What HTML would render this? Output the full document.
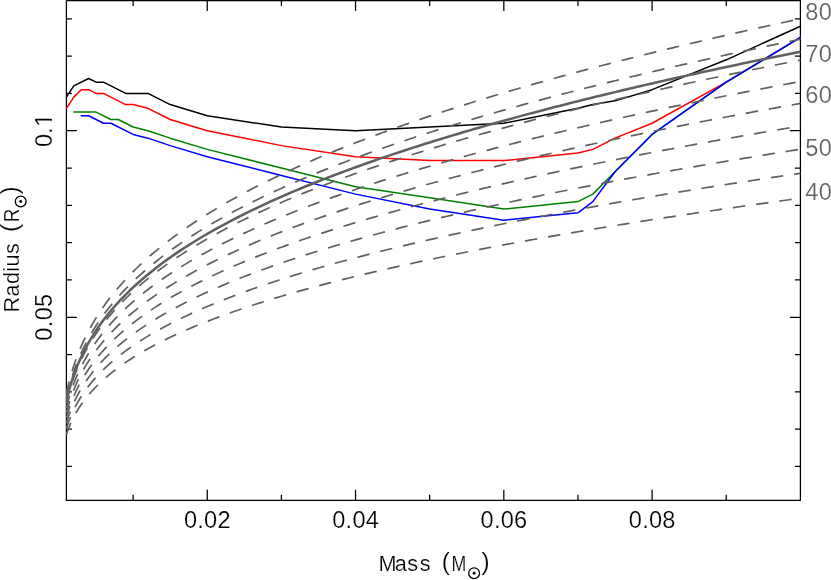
<!DOCTYPE html><html><head><meta charset="utf-8"><style>html,body{margin:0;padding:0;background:#fff}svg{display:block}text{font-family:"Liberation Sans",sans-serif}</style></head><body>
<svg width="831" height="580" viewBox="0 0 831 580">
<rect width="831" height="580" fill="#fff"/>
<defs><clipPath id="c"><rect x="65.80" y="-0.10" width="735.20" height="501.00"/></clipPath></defs>
<g stroke="#000" stroke-width="1.25" fill="none">
<path d="M66.40 0.50 V500.30 H800.40 V0.50 H66.40"/>
<path d="M133.13 500.30v-5.50M133.13 0.50v5.50M207.27 500.30v-10.50M207.27 0.50v10.50M281.41 500.30v-5.50M281.41 0.50v5.50M355.55 500.30v-10.50M355.55 0.50v10.50M429.69 500.30v-5.50M429.69 0.50v5.50M503.83 500.30v-10.50M503.83 0.50v10.50M577.97 500.30v-5.50M577.97 0.50v5.50M652.11 500.30v-10.50M652.11 0.50v10.50M726.25 500.30v-5.50M726.25 0.50v5.50M66.40 466.49h5.50M800.40 466.49h-5.50M66.40 429.18h5.50M800.40 429.18h-5.50M66.40 391.87h5.50M800.40 391.87h-5.50M66.40 354.56h5.50M800.40 354.56h-5.50M66.40 317.25h10.50M800.40 317.25h-10.50M66.40 279.94h5.50M800.40 279.94h-5.50M66.40 242.63h5.50M800.40 242.63h-5.50M66.40 205.32h5.50M800.40 205.32h-5.50M66.40 168.01h5.50M800.40 168.01h-5.50M66.40 130.70h10.50M800.40 130.70h-10.50M66.40 93.39h5.50M800.40 93.39h-5.50M66.40 56.08h5.50M800.40 56.08h-5.50M66.40 18.77h5.50M800.40 18.77h-5.50"/>
</g>
<g fill="none" stroke-linejoin="round" clip-path="url(#c)">
<polyline points="66.40,97.12 73.81,85.93 88.64,78.47 96.06,82.20 103.47,82.20 125.71,93.39 133.13,93.39 147.95,93.39 170.20,104.58 207.27,115.78 281.41,126.97 355.55,130.70 429.69,126.97 503.83,123.24 577.97,108.31 592.79,104.58 615.04,100.85 652.11,89.66 726.25,59.81 800.39,26.23" stroke="#000" stroke-width="1.5" stroke-linecap="round"/>
<polyline points="66.40,108.31 73.81,97.12 81.23,89.66 88.64,89.66 96.06,93.39 103.47,93.39 125.71,104.58 133.13,104.58 147.95,108.31 170.20,119.51 207.27,130.70 281.41,145.62 355.55,156.82 429.69,160.55 503.83,160.55 577.97,153.09 592.79,149.36 615.04,138.16 652.11,123.24 726.25,82.20 800.39,37.43" stroke="#ff0000" stroke-width="1.5" stroke-linecap="round"/>
<polyline points="73.81,112.05 96.06,112.05 110.88,119.51 118.30,119.51 133.13,126.97 147.95,130.70 170.20,138.16 207.27,149.36 281.41,168.01 355.55,186.66 429.69,197.86 503.83,209.05 577.97,201.59 592.79,194.13 615.04,171.74 652.11,134.43 726.25,82.20 800.39,37.43" stroke="#008000" stroke-width="1.5" stroke-linecap="round"/>
<polyline points="81.23,115.78 88.64,115.78 103.47,123.24 110.88,123.24 133.13,134.43 147.95,138.16 170.20,145.62 207.27,156.82 281.41,175.47 355.55,194.13 429.69,209.05 503.83,220.24 577.97,212.78 592.79,201.59 615.04,171.74 652.11,134.43 726.25,82.20 800.39,37.43" stroke="#0000ff" stroke-width="1.5" stroke-linecap="round"/>
<polyline points="66.40,393.66 67.14,390.17 67.88,386.89 68.62,383.79 69.37,380.85 70.11,378.05 70.85,375.38 71.59,372.81 72.33,370.35 73.07,367.98 73.81,365.69 74.56,363.48 75.30,361.34 76.04,359.27 76.78,357.26 77.52,355.30 78.26,353.40 79.00,351.55 79.75,349.74 80.49,347.98 81.23,346.25 81.97,344.57 82.71,342.93 83.45,341.31 84.19,339.74 84.94,338.19 85.68,336.67 86.42,335.19 87.16,333.72 87.90,332.29 88.64,330.88 89.38,329.50 90.12,328.13 90.87,326.79 91.61,325.48 92.35,324.18 93.09,322.90 93.83,321.64 94.57,320.40 95.31,319.17 96.06,317.97 96.80,316.78 97.54,315.60 98.28,314.45 99.02,313.30 99.76,312.17 100.50,311.06 101.25,309.96 101.99,308.87 102.73,307.79 103.47,306.73 104.21,305.68 104.95,304.64 105.69,303.61 106.44,302.60 107.18,301.59 107.92,300.60 108.66,299.61 109.40,298.64 110.14,297.68 110.88,296.72 111.63,295.78 112.37,294.84 113.11,293.91 113.85,292.99 114.59,292.08 115.33,291.18 116.07,290.29 116.82,289.40 117.56,288.53 118.30,287.66 119.04,286.79 119.78,285.94 120.52,285.09 121.26,284.25 122.01,283.41 122.75,282.59 123.49,281.77 124.23,280.95 124.97,280.14 125.71,279.34 126.45,278.55 127.19,277.76 127.94,276.97 128.68,276.19 129.42,275.42 130.16,274.66 130.90,273.89 131.64,273.14 132.38,272.39 133.13,271.64 136.83,267.99 140.54,264.46 144.25,261.04 147.95,257.71 151.66,254.49 155.37,251.35 159.08,248.29 162.78,245.31 166.49,242.40 170.20,239.56 173.90,236.79 177.61,234.07 181.32,231.41 185.02,228.81 188.73,226.26 192.44,223.76 196.15,221.31 199.85,218.90 203.56,216.54 207.27,214.22 210.97,211.93 214.68,209.69 218.39,207.48 222.09,205.30 225.80,203.16 229.51,201.06 233.22,198.98 236.92,196.93 240.63,194.91 244.34,192.92 248.04,190.96 251.75,189.02 255.46,187.11 259.16,185.22 262.87,183.36 266.58,181.52 270.29,179.70 273.99,177.90 277.70,176.13 281.41,174.37 285.11,172.63 288.82,170.92 292.53,169.22 296.23,167.54 299.94,165.88 303.65,164.23 307.36,162.60 311.06,160.99 314.77,159.40 318.48,157.81 322.18,156.25 325.89,154.70 329.60,153.16 333.30,151.64 337.01,150.13 340.72,148.64 344.42,147.15 348.13,145.69 351.84,144.23 355.55,142.79 359.25,141.35 362.96,139.93 366.67,138.52 370.37,137.13 374.08,135.74 377.79,134.37 381.50,133.00 385.20,131.65 388.91,130.30 392.62,128.97 396.32,127.64 400.03,126.33 403.74,125.02 407.44,123.73 411.15,122.44 414.86,121.16 418.57,119.89 422.27,118.63 425.98,117.38 429.69,116.14 433.39,114.90 437.10,113.67 440.81,112.45 444.51,111.24 448.22,110.04 451.93,108.84 455.63,107.65 459.34,106.47 463.05,105.29 466.76,104.13 470.46,102.97 474.17,101.81 477.88,100.66 481.58,99.52 485.29,98.39 489.00,97.26 492.71,96.14 496.41,95.02 500.12,93.91 503.83,92.81 507.53,91.71 511.24,90.62 514.95,89.54 518.65,88.46 522.36,87.38 526.07,86.32 529.77,85.25 533.48,84.19 537.19,83.14 540.90,82.10 544.60,81.05 548.31,80.02 552.02,78.99 555.72,77.96 559.43,76.94 563.14,75.92 566.85,74.91 570.55,73.90 574.26,72.90 577.97,71.90 581.67,70.91 585.38,69.92 589.09,68.93 592.79,67.95 596.50,66.98 600.21,66.00 603.91,65.04 607.62,64.07 611.33,63.12 615.04,62.16 618.74,61.21 622.45,60.26 626.16,59.32 629.86,58.38 633.57,57.45 637.28,56.51 640.99,55.59 644.69,54.66 648.40,53.74 652.11,52.83 655.81,51.91 659.52,51.00 663.23,50.10 666.93,49.20 670.64,48.30 674.35,47.40 678.05,46.51 681.76,45.62 685.47,44.74 689.18,43.85 692.88,42.97 696.59,42.10 700.30,41.23 704.00,40.36 707.71,39.49 711.42,38.63 715.12,37.77 718.83,36.91 722.54,36.06 726.25,35.21 729.95,34.36 733.66,33.51 737.37,32.67 741.07,31.83 744.78,31.00 748.49,30.16 752.19,29.33 755.90,28.50 759.61,27.68 763.32,26.85 767.02,26.03 770.73,25.22 774.44,24.40 778.14,23.59 781.85,22.78 785.56,21.97 789.26,21.17 792.97,20.37 796.68,19.57 800.39,18.77" stroke="#606060" stroke-width="1.7" stroke-dasharray="12.4 11.0"/>
<polyline points="66.40,398.29 67.14,394.95 67.88,391.81 68.62,388.84 69.37,386.03 70.11,383.35 70.85,380.78 71.59,378.33 72.33,375.97 73.07,373.70 73.81,371.51 74.56,369.39 75.30,367.34 76.04,365.36 76.78,363.43 77.52,361.56 78.26,359.73 79.00,357.96 79.75,356.23 80.49,354.54 81.23,352.89 81.97,351.28 82.71,349.70 83.45,348.16 84.19,346.65 84.94,345.16 85.68,343.71 86.42,342.29 87.16,340.89 87.90,339.51 88.64,338.16 89.38,336.84 90.12,335.53 90.87,334.25 91.61,332.99 92.35,331.74 93.09,330.52 93.83,329.31 94.57,328.12 95.31,326.95 96.06,325.79 96.80,324.65 97.54,323.53 98.28,322.42 99.02,321.33 99.76,320.24 100.50,319.18 101.25,318.12 101.99,317.08 102.73,316.05 103.47,315.03 104.21,314.02 104.95,313.03 105.69,312.05 106.44,311.07 107.18,310.11 107.92,309.16 108.66,308.21 109.40,307.28 110.14,306.36 110.88,305.44 111.63,304.54 112.37,303.64 113.11,302.75 113.85,301.87 114.59,301.00 115.33,300.14 116.07,299.28 116.82,298.43 117.56,297.59 118.30,296.76 119.04,295.93 119.78,295.11 120.52,294.30 121.26,293.49 122.01,292.70 122.75,291.90 123.49,291.12 124.23,290.34 124.97,289.56 125.71,288.79 126.45,288.03 127.19,287.28 127.94,286.53 128.68,285.78 129.42,285.04 130.16,284.31 130.90,283.58 131.64,282.85 132.38,282.13 133.13,281.42 136.83,277.92 140.54,274.54 144.25,271.26 147.95,268.08 151.66,264.99 155.37,261.98 159.08,259.05 162.78,256.19 166.49,253.41 170.20,250.69 173.90,248.03 177.61,245.43 181.32,242.89 185.02,240.39 188.73,237.95 192.44,235.56 196.15,233.21 199.85,230.90 203.56,228.64 207.27,226.41 210.97,224.22 214.68,222.07 218.39,219.96 222.09,217.88 225.80,215.82 229.51,213.81 233.22,211.82 236.92,209.85 240.63,207.92 244.34,206.02 248.04,204.13 251.75,202.28 255.46,200.45 259.16,198.64 262.87,196.85 266.58,195.09 270.29,193.35 273.99,191.63 277.70,189.93 281.41,188.24 285.11,186.58 288.82,184.94 292.53,183.31 296.23,181.70 299.94,180.11 303.65,178.53 307.36,176.97 311.06,175.43 314.77,173.90 318.48,172.39 322.18,170.89 325.89,169.40 329.60,167.93 333.30,166.47 337.01,165.03 340.72,163.59 344.42,162.17 348.13,160.77 351.84,159.37 355.55,157.99 359.25,156.62 362.96,155.26 366.67,153.91 370.37,152.57 374.08,151.24 377.79,149.92 381.50,148.62 385.20,147.32 388.91,146.03 392.62,144.75 396.32,143.48 400.03,142.22 403.74,140.97 407.44,139.73 411.15,138.50 414.86,137.28 418.57,136.06 422.27,134.85 425.98,133.65 429.69,132.46 433.39,131.28 437.10,130.10 440.81,128.93 444.51,127.77 448.22,126.62 451.93,125.47 455.63,124.33 459.34,123.20 463.05,122.08 466.76,120.96 470.46,119.85 474.17,118.74 477.88,117.64 481.58,116.55 485.29,115.46 489.00,114.38 492.71,113.31 496.41,112.24 500.12,111.18 503.83,110.12 507.53,109.07 511.24,108.02 514.95,106.98 518.65,105.95 522.36,104.92 526.07,103.90 529.77,102.88 533.48,101.87 537.19,100.86 540.90,99.85 544.60,98.86 548.31,97.86 552.02,96.88 555.72,95.89 559.43,94.91 563.14,93.94 566.85,92.97 570.55,92.00 574.26,91.04 577.97,90.09 581.67,89.14 585.38,88.19 589.09,87.25 592.79,86.31 596.50,85.37 600.21,84.44 603.91,83.51 607.62,82.59 611.33,81.67 615.04,80.76 618.74,79.85 622.45,78.94 626.16,78.04 629.86,77.14 633.57,76.24 637.28,75.35 640.99,74.46 644.69,73.58 648.40,72.70 652.11,71.82 655.81,70.94 659.52,70.07 663.23,69.20 666.93,68.34 670.64,67.48 674.35,66.62 678.05,65.77 681.76,64.92 685.47,64.07 689.18,63.22 692.88,62.38 696.59,61.54 700.30,60.71 704.00,59.87 707.71,59.05 711.42,58.22 715.12,57.39 718.83,56.57 722.54,55.76 726.25,54.94 729.95,54.13 733.66,53.32 737.37,52.51 741.07,51.71 744.78,50.91 748.49,50.11 752.19,49.31 755.90,48.52 759.61,47.73 763.32,46.94 767.02,46.15 770.73,45.37 774.44,44.59 778.14,43.81 781.85,43.04 785.56,42.26 789.26,41.49 792.97,40.73 796.68,39.96 800.39,39.20" stroke="#606060" stroke-width="1.7" stroke-dasharray="12.4 11.0"/>
<polyline points="66.40,403.04 67.14,399.85 67.88,396.85 68.62,394.01 69.37,391.32 70.11,388.76 70.85,386.31 71.59,383.97 72.33,381.72 73.07,379.55 73.81,377.46 74.56,375.43 75.30,373.48 76.04,371.58 76.78,369.74 77.52,367.95 78.26,366.21 79.00,364.51 79.75,362.86 80.49,361.25 81.23,359.67 81.97,358.13 82.71,356.63 83.45,355.15 84.19,353.71 84.94,352.29 85.68,350.91 86.42,349.55 87.16,348.21 87.90,346.90 88.64,345.61 89.38,344.34 90.12,343.10 90.87,341.87 91.61,340.66 92.35,339.48 93.09,338.31 93.83,337.15 94.57,336.02 95.31,334.90 96.06,333.80 96.80,332.71 97.54,331.63 98.28,330.57 99.02,329.53 99.76,328.50 100.50,327.48 101.25,326.47 101.99,325.47 102.73,324.49 103.47,323.52 104.21,322.56 104.95,321.61 105.69,320.67 106.44,319.74 107.18,318.82 107.92,317.91 108.66,317.01 109.40,316.11 110.14,315.23 110.88,314.36 111.63,313.49 112.37,312.64 113.11,311.79 113.85,310.95 114.59,310.12 115.33,309.29 116.07,308.47 116.82,307.66 117.56,306.86 118.30,306.07 119.04,305.28 119.78,304.49 120.52,303.72 121.26,302.95 122.01,302.19 122.75,301.43 123.49,300.68 124.23,299.93 124.97,299.19 125.71,298.46 126.45,297.73 127.19,297.01 127.94,296.29 128.68,295.58 129.42,294.87 130.16,294.17 130.90,293.48 131.64,292.79 132.38,292.10 133.13,291.42 136.83,288.08 140.54,284.85 144.25,281.71 147.95,278.67 151.66,275.72 155.37,272.85 159.08,270.05 162.78,267.32 166.49,264.66 170.20,262.07 173.90,259.53 177.61,257.04 181.32,254.61 185.02,252.23 188.73,249.90 192.44,247.62 196.15,245.37 199.85,243.17 203.56,241.01 207.27,238.88 210.97,236.79 214.68,234.74 218.39,232.72 222.09,230.73 225.80,228.77 229.51,226.84 233.22,224.94 236.92,223.07 240.63,221.22 244.34,219.40 248.04,217.61 251.75,215.83 255.46,214.08 259.16,212.36 262.87,210.65 266.58,208.97 270.29,207.30 273.99,205.66 277.70,204.04 281.41,202.43 285.11,200.84 288.82,199.27 292.53,197.72 296.23,196.18 299.94,194.66 303.65,193.15 307.36,191.66 311.06,190.19 314.77,188.73 318.48,187.28 322.18,185.85 325.89,184.43 329.60,183.03 333.30,181.63 337.01,180.25 340.72,178.89 344.42,177.53 348.13,176.19 351.84,174.86 355.55,173.53 359.25,172.22 362.96,170.93 366.67,169.64 370.37,168.36 374.08,167.09 377.79,165.83 381.50,164.58 385.20,163.34 388.91,162.11 392.62,160.89 396.32,159.68 400.03,158.48 403.74,157.28 407.44,156.10 411.15,154.92 414.86,153.75 418.57,152.59 422.27,151.44 425.98,150.29 429.69,149.15 433.39,148.02 437.10,146.90 440.81,145.79 444.51,144.68 448.22,143.58 451.93,142.48 455.63,141.39 459.34,140.31 463.05,139.24 466.76,138.17 470.46,137.11 474.17,136.05 477.88,135.00 481.58,133.96 485.29,132.92 489.00,131.89 492.71,130.86 496.41,129.84 500.12,128.83 503.83,127.82 507.53,126.81 511.24,125.82 514.95,124.82 518.65,123.83 522.36,122.85 526.07,121.87 529.77,120.90 533.48,119.93 537.19,118.97 540.90,118.01 544.60,117.06 548.31,116.11 552.02,115.17 555.72,114.23 559.43,113.29 563.14,112.36 566.85,111.44 570.55,110.52 574.26,109.60 577.97,108.69 581.67,107.78 585.38,106.87 589.09,105.97 592.79,105.07 596.50,104.18 600.21,103.29 603.91,102.41 607.62,101.53 611.33,100.65 615.04,99.78 618.74,98.91 622.45,98.04 626.16,97.18 629.86,96.32 633.57,95.46 637.28,94.61 640.99,93.76 644.69,92.92 648.40,92.08 652.11,91.24 655.81,90.40 659.52,89.57 663.23,88.74 666.93,87.92 670.64,87.09 674.35,86.27 678.05,85.46 681.76,84.65 685.47,83.84 689.18,83.03 692.88,82.22 696.59,81.42 700.30,80.63 704.00,79.83 707.71,79.04 711.42,78.25 715.12,77.46 718.83,76.68 722.54,75.90 726.25,75.12 729.95,74.34 733.66,73.57 737.37,72.80 741.07,72.03 744.78,71.27 748.49,70.50 752.19,69.74 755.90,68.99 759.61,68.23 763.32,67.48 767.02,66.73 770.73,65.98 774.44,65.23 778.14,64.49 781.85,63.75 785.56,63.01 789.26,62.28 792.97,61.54 796.68,60.81 800.39,60.08" stroke="#606060" stroke-width="1.7" stroke-dasharray="12.4 11.0"/>
<polyline points="66.40,407.89 67.14,404.86 67.88,402.00 68.62,399.30 69.37,396.74 70.11,394.31 70.85,391.98 71.59,389.75 72.33,387.60 73.07,385.54 73.81,383.55 74.56,381.62 75.30,379.76 76.04,377.95 76.78,376.20 77.52,374.50 78.26,372.84 79.00,371.23 79.75,369.66 80.49,368.12 81.23,366.62 81.97,365.16 82.71,363.72 83.45,362.32 84.19,360.94 84.94,359.60 85.68,358.28 86.42,356.98 87.16,355.71 87.90,354.46 88.64,353.24 89.38,352.03 90.12,350.84 90.87,349.68 91.61,348.53 92.35,347.40 93.09,346.28 93.83,345.19 94.57,344.11 95.31,343.04 96.06,341.99 96.80,340.96 97.54,339.93 98.28,338.92 99.02,337.93 99.76,336.95 100.50,335.97 101.25,335.02 101.99,334.07 102.73,333.13 103.47,332.21 104.21,331.29 104.95,330.39 105.69,329.49 106.44,328.61 107.18,327.73 107.92,326.87 108.66,326.01 109.40,325.16 110.14,324.32 110.88,323.49 111.63,322.67 112.37,321.85 113.11,321.05 113.85,320.25 114.59,319.45 115.33,318.67 116.07,317.89 116.82,317.12 117.56,316.35 118.30,315.60 119.04,314.85 119.78,314.10 120.52,313.36 121.26,312.63 122.01,311.90 122.75,311.18 123.49,310.47 124.23,309.76 124.97,309.06 125.71,308.36 126.45,307.67 127.19,306.98 127.94,306.30 128.68,305.62 129.42,304.95 130.16,304.28 130.90,303.62 131.64,302.96 132.38,302.30 133.13,301.66 136.83,298.48 140.54,295.40 144.25,292.42 147.95,289.53 151.66,286.72 155.37,283.98 159.08,281.32 162.78,278.72 166.49,276.19 170.20,273.72 173.90,271.30 177.61,268.94 181.32,266.63 185.02,264.36 188.73,262.14 192.44,259.96 196.15,257.83 199.85,255.73 203.56,253.67 207.27,251.65 210.97,249.66 214.68,247.71 218.39,245.78 222.09,243.89 225.80,242.03 229.51,240.19 233.22,238.38 236.92,236.60 240.63,234.84 244.34,233.11 248.04,231.40 251.75,229.71 255.46,228.05 259.16,226.41 262.87,224.78 266.58,223.18 270.29,221.60 273.99,220.03 277.70,218.49 281.41,216.96 285.11,215.45 288.82,213.95 292.53,212.47 296.23,211.01 299.94,209.56 303.65,208.13 307.36,206.71 311.06,205.31 314.77,203.92 318.48,202.54 322.18,201.18 325.89,199.83 329.60,198.49 333.30,197.16 337.01,195.85 340.72,194.55 344.42,193.26 348.13,191.98 351.84,190.71 355.55,189.45 359.25,188.21 362.96,186.97 366.67,185.74 370.37,184.53 374.08,183.32 377.79,182.12 381.50,180.93 385.20,179.76 388.91,178.58 392.62,177.42 396.32,176.27 400.03,175.12 403.74,173.99 407.44,172.86 411.15,171.74 414.86,170.63 418.57,169.52 422.27,168.42 425.98,167.33 429.69,166.25 433.39,165.17 437.10,164.11 440.81,163.04 444.51,161.99 448.22,160.94 451.93,159.90 455.63,158.86 459.34,157.83 463.05,156.81 466.76,155.79 470.46,154.78 474.17,153.78 477.88,152.78 481.58,151.78 485.29,150.80 489.00,149.82 492.71,148.84 496.41,147.87 500.12,146.90 503.83,145.94 507.53,144.99 511.24,144.04 514.95,143.09 518.65,142.15 522.36,141.22 526.07,140.28 529.77,139.36 533.48,138.44 537.19,137.52 540.90,136.61 544.60,135.70 548.31,134.80 552.02,133.90 555.72,133.01 559.43,132.12 563.14,131.23 566.85,130.35 570.55,129.47 574.26,128.60 577.97,127.73 581.67,126.87 585.38,126.01 589.09,125.15 592.79,124.30 596.50,123.45 600.21,122.60 603.91,121.76 607.62,120.92 611.33,120.08 615.04,119.25 618.74,118.42 622.45,117.60 626.16,116.78 629.86,115.96 633.57,115.15 637.28,114.34 640.99,113.53 644.69,112.72 648.40,111.92 652.11,111.12 655.81,110.33 659.52,109.54 663.23,108.75 666.93,107.96 670.64,107.18 674.35,106.40 678.05,105.62 681.76,104.85 685.47,104.08 689.18,103.31 692.88,102.55 696.59,101.78 700.30,101.02 704.00,100.27 707.71,99.51 711.42,98.76 715.12,98.01 718.83,97.27 722.54,96.52 726.25,95.78 729.95,95.04 733.66,94.31 737.37,93.58 741.07,92.84 744.78,92.12 748.49,91.39 752.19,90.67 755.90,89.95 759.61,89.23 763.32,88.51 767.02,87.80 770.73,87.08 774.44,86.38 778.14,85.67 781.85,84.96 785.56,84.26 789.26,83.56 792.97,82.86 796.68,82.17 800.39,81.47" stroke="#606060" stroke-width="1.7" stroke-dasharray="12.4 11.0"/>
<polyline points="66.40,412.88 67.14,410.00 67.88,407.29 68.62,404.73 69.37,402.31 70.11,400.00 70.85,397.79 71.59,395.67 72.33,393.64 73.07,391.68 73.81,389.80 74.56,387.97 75.30,386.21 76.04,384.49 76.78,382.83 77.52,381.22 78.26,379.65 79.00,378.12 79.75,376.63 80.49,375.17 81.23,373.75 81.97,372.36 82.71,371.00 83.45,369.67 84.19,368.37 84.94,367.09 85.68,365.84 86.42,364.61 87.16,363.41 87.90,362.22 88.64,361.06 89.38,359.92 90.12,358.79 90.87,357.69 91.61,356.60 92.35,355.52 93.09,354.47 93.83,353.43 94.57,352.41 95.31,351.40 96.06,350.40 96.80,349.42 97.54,348.45 98.28,347.49 99.02,346.55 99.76,345.62 100.50,344.70 101.25,343.79 101.99,342.89 102.73,342.00 103.47,341.12 104.21,340.26 104.95,339.40 105.69,338.55 106.44,337.71 107.18,336.88 107.92,336.06 108.66,335.25 109.40,334.44 110.14,333.65 110.88,332.86 111.63,332.08 112.37,331.31 113.11,330.54 113.85,329.78 114.59,329.03 115.33,328.29 116.07,327.55 116.82,326.82 117.56,326.10 118.30,325.38 119.04,324.66 119.78,323.96 120.52,323.26 121.26,322.56 122.01,321.88 122.75,321.19 123.49,320.51 124.23,319.84 124.97,319.18 125.71,318.51 126.45,317.86 127.19,317.21 127.94,316.56 128.68,315.92 129.42,315.28 130.16,314.65 130.90,314.02 131.64,313.39 132.38,312.77 133.13,312.16 136.83,309.15 140.54,306.23 144.25,303.40 147.95,300.66 151.66,298.00 155.37,295.40 159.08,292.88 162.78,290.42 166.49,288.02 170.20,285.67 173.90,283.38 177.61,281.14 181.32,278.95 185.02,276.80 188.73,274.70 192.44,272.64 196.15,270.61 199.85,268.62 203.56,266.67 207.27,264.75 210.97,262.87 214.68,261.02 218.39,259.19 222.09,257.40 225.80,255.63 229.51,253.89 233.22,252.18 236.92,250.49 240.63,248.82 244.34,247.18 248.04,245.56 251.75,243.96 255.46,242.38 259.16,240.82 262.87,239.28 266.58,237.76 270.29,236.26 273.99,234.78 277.70,233.31 281.41,231.86 285.11,230.43 288.82,229.01 292.53,227.61 296.23,226.22 299.94,224.85 303.65,223.49 307.36,222.15 311.06,220.82 314.77,219.50 318.48,218.20 322.18,216.90 325.89,215.62 329.60,214.35 333.30,213.10 337.01,211.85 340.72,210.62 344.42,209.40 348.13,208.18 351.84,206.98 355.55,205.79 359.25,204.61 362.96,203.43 366.67,202.27 370.37,201.12 374.08,199.97 377.79,198.84 381.50,197.71 385.20,196.59 388.91,195.48 392.62,194.38 396.32,193.29 400.03,192.20 403.74,191.13 407.44,190.06 411.15,188.99 414.86,187.94 418.57,186.89 422.27,185.85 425.98,184.82 429.69,183.79 433.39,182.77 437.10,181.76 440.81,180.75 444.51,179.75 448.22,178.76 451.93,177.77 455.63,176.79 459.34,175.81 463.05,174.84 466.76,173.88 470.46,172.92 474.17,171.97 477.88,171.02 481.58,170.08 485.29,169.14 489.00,168.21 492.71,167.28 496.41,166.36 500.12,165.45 503.83,164.54 507.53,163.63 511.24,162.73 514.95,161.83 518.65,160.94 522.36,160.06 526.07,159.17 529.77,158.30 533.48,157.42 537.19,156.55 540.90,155.69 544.60,154.83 548.31,153.97 552.02,153.12 555.72,152.28 559.43,151.43 563.14,150.59 566.85,149.76 570.55,148.93 574.26,148.10 577.97,147.27 581.67,146.45 585.38,145.64 589.09,144.82 592.79,144.02 596.50,143.21 600.21,142.41 603.91,141.61 607.62,140.81 611.33,140.02 615.04,139.23 618.74,138.45 622.45,137.67 626.16,136.89 629.86,136.11 633.57,135.34 637.28,134.57 640.99,133.81 644.69,133.05 648.40,132.29 652.11,131.53 655.81,130.78 659.52,130.02 663.23,129.28 666.93,128.53 670.64,127.79 674.35,127.05 678.05,126.32 681.76,125.58 685.47,124.85 689.18,124.12 692.88,123.40 696.59,122.67 700.30,121.95 704.00,121.24 707.71,120.52 711.42,119.81 715.12,119.10 718.83,118.39 722.54,117.69 726.25,116.98 729.95,116.28 733.66,115.59 737.37,114.89 741.07,114.20 744.78,113.51 748.49,112.82 752.19,112.13 755.90,111.45 759.61,110.77 763.32,110.09 767.02,109.41 770.73,108.74 774.44,108.07 778.14,107.40 781.85,106.73 785.56,106.06 789.26,105.40 792.97,104.73 796.68,104.07 800.39,103.42" stroke="#606060" stroke-width="1.7" stroke-dasharray="12.4 11.0"/>
<polyline points="66.40,418.00 67.14,415.28 67.88,412.73 68.62,410.32 69.37,408.03 70.11,405.85 70.85,403.76 71.59,401.77 72.33,399.85 73.07,398.00 73.81,396.22 74.56,394.50 75.30,392.83 76.04,391.22 76.78,389.65 77.52,388.13 78.26,386.64 79.00,385.20 79.75,383.79 80.49,382.42 81.23,381.08 81.97,379.77 82.71,378.48 83.45,377.23 84.19,376.00 84.94,374.80 85.68,373.61 86.42,372.46 87.16,371.32 87.90,370.20 88.64,369.10 89.38,368.02 90.12,366.96 90.87,365.92 91.61,364.89 92.35,363.88 93.09,362.89 93.83,361.90 94.57,360.94 95.31,359.98 96.06,359.04 96.80,358.12 97.54,357.20 98.28,356.30 99.02,355.41 99.76,354.53 100.50,353.66 101.25,352.80 101.99,351.96 102.73,351.12 103.47,350.29 104.21,349.47 104.95,348.66 105.69,347.86 106.44,347.07 107.18,346.29 107.92,345.51 108.66,344.75 109.40,343.99 110.14,343.24 110.88,342.49 111.63,341.76 112.37,341.03 113.11,340.31 113.85,339.59 114.59,338.88 115.33,338.18 116.07,337.48 116.82,336.79 117.56,336.11 118.30,335.43 119.04,334.76 119.78,334.09 120.52,333.43 121.26,332.78 122.01,332.13 122.75,331.48 123.49,330.84 124.23,330.21 124.97,329.58 125.71,328.96 126.45,328.34 127.19,327.72 127.94,327.11 128.68,326.50 129.42,325.90 130.16,325.31 130.90,324.71 131.64,324.12 132.38,323.54 133.13,322.96 136.83,320.12 140.54,317.36 144.25,314.70 147.95,312.11 151.66,309.59 155.37,307.15 159.08,304.77 162.78,302.45 166.49,300.18 170.20,297.97 173.90,295.81 177.61,293.69 181.32,291.62 185.02,289.60 188.73,287.61 192.44,285.66 196.15,283.75 199.85,281.88 203.56,280.04 207.27,278.23 210.97,276.45 214.68,274.70 218.39,272.98 222.09,271.28 225.80,269.62 229.51,267.97 233.22,266.36 236.92,264.76 240.63,263.19 244.34,261.64 248.04,260.11 251.75,258.60 255.46,257.11 259.16,255.64 262.87,254.19 266.58,252.76 270.29,251.34 273.99,249.94 277.70,248.56 281.41,247.19 285.11,245.84 288.82,244.50 292.53,243.18 296.23,241.87 299.94,240.57 303.65,239.29 307.36,238.02 311.06,236.77 314.77,235.52 318.48,234.29 322.18,233.07 325.89,231.86 329.60,230.67 333.30,229.48 337.01,228.31 340.72,227.14 344.42,225.99 348.13,224.84 351.84,223.71 355.55,222.58 359.25,221.47 362.96,220.36 366.67,219.27 370.37,218.18 374.08,217.10 377.79,216.03 381.50,214.96 385.20,213.91 388.91,212.86 392.62,211.82 396.32,210.79 400.03,209.76 403.74,208.75 407.44,207.74 411.15,206.74 414.86,205.74 418.57,204.75 422.27,203.77 425.98,202.79 429.69,201.83 433.39,200.86 437.10,199.91 440.81,198.96 444.51,198.01 448.22,197.07 451.93,196.14 455.63,195.22 459.34,194.29 463.05,193.38 466.76,192.47 470.46,191.57 474.17,190.67 477.88,189.77 481.58,188.88 485.29,188.00 489.00,187.12 492.71,186.25 496.41,185.38 500.12,184.52 503.83,183.66 507.53,182.80 511.24,181.95 514.95,181.11 518.65,180.27 522.36,179.43 526.07,178.60 529.77,177.77 533.48,176.94 537.19,176.12 540.90,175.31 544.60,174.50 548.31,173.69 552.02,172.89 555.72,172.09 559.43,171.29 563.14,170.50 566.85,169.71 570.55,168.93 574.26,168.14 577.97,167.37 581.67,166.59 585.38,165.82 589.09,165.06 592.79,164.29 596.50,163.53 600.21,162.77 603.91,162.02 607.62,161.27 611.33,160.52 615.04,159.78 618.74,159.04 622.45,158.30 626.16,157.57 629.86,156.84 633.57,156.11 637.28,155.38 640.99,154.66 644.69,153.94 648.40,153.22 652.11,152.51 655.81,151.80 659.52,151.09 663.23,150.38 666.93,149.68 670.64,148.98 674.35,148.28 678.05,147.59 681.76,146.90 685.47,146.21 689.18,145.52 692.88,144.84 696.59,144.15 700.30,143.47 704.00,142.80 707.71,142.12 711.42,141.45 715.12,140.78 718.83,140.11 722.54,139.45 726.25,138.78 729.95,138.12 733.66,137.47 737.37,136.81 741.07,136.16 744.78,135.50 748.49,134.85 752.19,134.21 755.90,133.56 759.61,132.92 763.32,132.28 767.02,131.64 770.73,131.00 774.44,130.37 778.14,129.74 781.85,129.10 785.56,128.48 789.26,127.85 792.97,127.22 796.68,126.60 800.39,125.98" stroke="#606060" stroke-width="1.7" stroke-dasharray="12.4 11.0"/>
<polyline points="66.40,423.28 67.14,420.73 67.88,418.34 68.62,416.07 69.37,413.92 70.11,411.88 70.85,409.92 71.59,408.05 72.33,406.25 73.07,404.51 73.81,402.84 74.56,401.23 75.30,399.66 76.04,398.15 76.78,396.68 77.52,395.25 78.26,393.86 79.00,392.50 79.75,391.18 80.49,389.89 81.23,388.63 81.97,387.40 82.71,386.20 83.45,385.02 84.19,383.87 84.94,382.74 85.68,381.63 86.42,380.54 87.16,379.47 87.90,378.43 88.64,377.40 89.38,376.38 90.12,375.39 90.87,374.41 91.61,373.44 92.35,372.50 93.09,371.56 93.83,370.64 94.57,369.73 95.31,368.84 96.06,367.96 96.80,367.09 97.54,366.23 98.28,365.38 99.02,364.55 99.76,363.72 100.50,362.91 101.25,362.10 101.99,361.30 102.73,360.52 103.47,359.74 104.21,358.97 104.95,358.21 105.69,357.46 106.44,356.72 107.18,355.99 107.92,355.26 108.66,354.54 109.40,353.83 110.14,353.12 110.88,352.42 111.63,351.73 112.37,351.05 113.11,350.37 113.85,349.70 114.59,349.03 115.33,348.38 116.07,347.72 116.82,347.08 117.56,346.43 118.30,345.80 119.04,345.17 119.78,344.54 120.52,343.92 121.26,343.31 122.01,342.70 122.75,342.09 123.49,341.49 124.23,340.90 124.97,340.31 125.71,339.72 126.45,339.14 127.19,338.56 127.94,337.99 128.68,337.42 129.42,336.86 130.16,336.29 130.90,335.74 131.64,335.19 132.38,334.64 133.13,334.09 136.83,331.42 140.54,328.84 144.25,326.34 147.95,323.91 151.66,321.55 155.37,319.26 159.08,317.02 162.78,314.84 166.49,312.72 170.20,310.64 173.90,308.61 177.61,306.63 181.32,304.68 185.02,302.78 188.73,300.92 192.44,299.09 196.15,297.30 199.85,295.54 203.56,293.81 207.27,292.11 210.97,290.44 214.68,288.80 218.39,287.19 222.09,285.60 225.80,284.03 229.51,282.49 233.22,280.97 236.92,279.48 240.63,278.00 244.34,276.55 248.04,275.11 251.75,273.70 255.46,272.30 259.16,270.92 262.87,269.56 266.58,268.21 270.29,266.88 273.99,265.57 277.70,264.27 281.41,262.99 285.11,261.72 288.82,260.46 292.53,259.22 296.23,257.99 299.94,256.78 303.65,255.57 307.36,254.38 311.06,253.21 314.77,252.04 318.48,250.88 322.18,249.74 325.89,248.61 329.60,247.48 333.30,246.37 337.01,245.27 340.72,244.17 344.42,243.09 348.13,242.02 351.84,240.95 355.55,239.90 359.25,238.85 362.96,237.81 366.67,236.78 370.37,235.76 374.08,234.75 377.79,233.74 381.50,232.74 385.20,231.75 388.91,230.77 392.62,229.80 396.32,228.83 400.03,227.87 403.74,226.91 407.44,225.96 411.15,225.02 414.86,224.09 418.57,223.16 422.27,222.24 425.98,221.33 429.69,220.42 433.39,219.51 437.10,218.62 440.81,217.72 444.51,216.84 448.22,215.96 451.93,215.08 455.63,214.21 459.34,213.35 463.05,212.49 466.76,211.64 470.46,210.79 474.17,209.94 477.88,209.11 481.58,208.27 485.29,207.44 489.00,206.62 492.71,205.80 496.41,204.98 500.12,204.17 503.83,203.37 507.53,202.56 511.24,201.77 514.95,200.97 518.65,200.18 522.36,199.40 526.07,198.62 529.77,197.84 533.48,197.07 537.19,196.30 540.90,195.53 544.60,194.77 548.31,194.01 552.02,193.26 555.72,192.51 559.43,191.76 563.14,191.02 566.85,190.28 570.55,189.54 574.26,188.81 577.97,188.08 581.67,187.35 585.38,186.63 589.09,185.91 592.79,185.19 596.50,184.48 600.21,183.77 603.91,183.06 607.62,182.36 611.33,181.66 615.04,180.96 618.74,180.26 622.45,179.57 626.16,178.88 629.86,178.20 633.57,177.51 637.28,176.83 640.99,176.15 644.69,175.48 648.40,174.81 652.11,174.14 655.81,173.47 659.52,172.80 663.23,172.14 666.93,171.48 670.64,170.83 674.35,170.17 678.05,169.52 681.76,168.87 685.47,168.22 689.18,167.58 692.88,166.93 696.59,166.29 700.30,165.66 704.00,165.02 707.71,164.39 711.42,163.76 715.12,163.13 718.83,162.50 722.54,161.88 726.25,161.26 729.95,160.64 733.66,160.02 737.37,159.40 741.07,158.79 744.78,158.18 748.49,157.57 752.19,156.96 755.90,156.36 759.61,155.75 763.32,155.15 767.02,154.55 770.73,153.95 774.44,153.36 778.14,152.76 781.85,152.17 785.56,151.58 789.26,150.99 792.97,150.41 796.68,149.82 800.39,149.24" stroke="#606060" stroke-width="1.7" stroke-dasharray="12.4 11.0"/>
<polyline points="66.40,428.75 67.14,426.37 67.88,424.13 68.62,422.02 69.37,420.02 70.11,418.11 70.85,416.29 71.59,414.54 72.33,412.86 73.07,411.25 73.81,409.69 74.56,408.19 75.30,406.73 76.04,405.32 76.78,403.94 77.52,402.61 78.26,401.31 79.00,400.05 79.75,398.82 80.49,397.62 81.23,396.45 81.97,395.30 82.71,394.18 83.45,393.08 84.19,392.00 84.94,390.95 85.68,389.92 86.42,388.90 87.16,387.91 87.90,386.93 88.64,385.97 89.38,385.03 90.12,384.10 90.87,383.18 91.61,382.29 92.35,381.40 93.09,380.53 93.83,379.67 94.57,378.83 95.31,377.99 96.06,377.17 96.80,376.36 97.54,375.56 98.28,374.77 99.02,373.99 99.76,373.22 100.50,372.46 101.25,371.71 101.99,370.97 102.73,370.24 103.47,369.51 104.21,368.80 104.95,368.09 105.69,367.39 106.44,366.70 107.18,366.01 107.92,365.33 108.66,364.66 109.40,364.00 110.14,363.34 110.88,362.69 111.63,362.05 112.37,361.41 113.11,360.78 113.85,360.15 114.59,359.53 115.33,358.92 116.07,358.31 116.82,357.71 117.56,357.11 118.30,356.51 119.04,355.93 119.78,355.34 120.52,354.77 121.26,354.19 122.01,353.62 122.75,353.06 123.49,352.50 124.23,351.95 124.97,351.40 125.71,350.85 126.45,350.31 127.19,349.77 127.94,349.24 128.68,348.71 129.42,348.18 130.16,347.66 130.90,347.14 131.64,346.62 132.38,346.11 133.13,345.60 136.83,343.12 140.54,340.71 144.25,338.38 147.95,336.11 151.66,333.91 155.37,331.77 159.08,329.69 162.78,327.66 166.49,325.68 170.20,323.74 173.90,321.85 177.61,320.00 181.32,318.19 185.02,316.42 188.73,314.68 192.44,312.98 196.15,311.31 199.85,309.67 203.56,308.06 207.27,306.47 210.97,304.92 214.68,303.39 218.39,301.88 222.09,300.40 225.80,298.94 229.51,297.50 233.22,296.09 236.92,294.69 240.63,293.32 244.34,291.96 248.04,290.62 251.75,289.30 255.46,288.00 259.16,286.72 262.87,285.45 266.58,284.19 270.29,282.95 273.99,281.73 277.70,280.52 281.41,279.32 285.11,278.14 288.82,276.97 292.53,275.81 296.23,274.67 299.94,273.53 303.65,272.41 307.36,271.30 311.06,270.20 314.77,269.12 318.48,268.04 322.18,266.97 325.89,265.92 329.60,264.87 333.30,263.83 337.01,262.80 340.72,261.78 344.42,260.77 348.13,259.77 351.84,258.78 355.55,257.80 359.25,256.82 362.96,255.85 366.67,254.89 370.37,253.94 374.08,253.00 377.79,252.06 381.50,251.13 385.20,250.21 388.91,249.29 392.62,248.38 396.32,247.48 400.03,246.58 403.74,245.69 407.44,244.81 411.15,243.93 414.86,243.06 418.57,242.20 422.27,241.34 425.98,240.49 429.69,239.64 433.39,238.80 437.10,237.96 440.81,237.13 444.51,236.30 448.22,235.48 451.93,234.67 455.63,233.86 459.34,233.05 463.05,232.25 466.76,231.45 470.46,230.66 474.17,229.88 477.88,229.09 481.58,228.32 485.29,227.54 489.00,226.78 492.71,226.01 496.41,225.25 500.12,224.50 503.83,223.74 507.53,223.00 511.24,222.25 514.95,221.51 518.65,220.78 522.36,220.05 526.07,219.32 529.77,218.59 533.48,217.87 537.19,217.16 540.90,216.44 544.60,215.73 548.31,215.03 552.02,214.32 555.72,213.62 559.43,212.93 563.14,212.23 566.85,211.54 570.55,210.86 574.26,210.17 577.97,209.49 581.67,208.82 585.38,208.14 589.09,207.47 592.79,206.80 596.50,206.14 600.21,205.48 603.91,204.82 607.62,204.16 611.33,203.51 615.04,202.86 618.74,202.21 622.45,201.56 626.16,200.92 629.86,200.28 633.57,199.64 637.28,199.01 640.99,198.38 644.69,197.75 648.40,197.12 652.11,196.50 655.81,195.88 659.52,195.26 663.23,194.64 666.93,194.02 670.64,193.41 674.35,192.80 678.05,192.19 681.76,191.59 685.47,190.98 689.18,190.38 692.88,189.78 696.59,189.19 700.30,188.59 704.00,188.00 707.71,187.41 711.42,186.82 715.12,186.24 718.83,185.65 722.54,185.07 726.25,184.49 729.95,183.91 733.66,183.34 737.37,182.76 741.07,182.19 744.78,181.62 748.49,181.05 752.19,180.49 755.90,179.92 759.61,179.36 763.32,178.80 767.02,178.24 770.73,177.68 774.44,177.13 778.14,176.58 781.85,176.02 785.56,175.47 789.26,174.93 792.97,174.38 796.68,173.83 800.39,173.29" stroke="#606060" stroke-width="1.7" stroke-dasharray="12.4 11.0"/>
<polyline points="66.40,434.41 67.14,432.22 67.88,430.15 68.62,428.20 69.37,426.35 70.11,424.58 70.85,422.90 71.59,421.28 72.33,419.73 73.07,418.24 73.81,416.80 74.56,415.41 75.30,414.06 76.04,412.75 76.78,411.48 77.52,410.25 78.26,409.05 79.00,407.89 79.75,406.75 80.49,405.64 81.23,404.55 81.97,403.49 82.71,402.46 83.45,401.44 84.19,400.45 84.94,399.47 85.68,398.52 86.42,397.58 87.16,396.66 87.90,395.76 88.64,394.87 89.38,394.00 90.12,393.14 90.87,392.29 91.61,391.46 92.35,390.64 93.09,389.84 93.83,389.05 94.57,388.26 95.31,387.49 96.06,386.73 96.80,385.98 97.54,385.24 98.28,384.51 99.02,383.79 99.76,383.08 100.50,382.38 101.25,381.69 101.99,381.00 102.73,380.32 103.47,379.65 104.21,378.99 104.95,378.34 105.69,377.69 106.44,377.05 107.18,376.42 107.92,375.79 108.66,375.17 109.40,374.56 110.14,373.95 110.88,373.35 111.63,372.75 112.37,372.16 113.11,371.58 113.85,371.00 114.59,370.43 115.33,369.86 116.07,369.30 116.82,368.74 117.56,368.19 118.30,367.64 119.04,367.09 119.78,366.56 120.52,366.02 121.26,365.49 122.01,364.97 122.75,364.44 123.49,363.93 124.23,363.41 124.97,362.91 125.71,362.40 126.45,361.90 127.19,361.40 127.94,360.91 128.68,360.42 129.42,359.93 130.16,359.45 130.90,358.97 131.64,358.49 132.38,358.02 133.13,357.55 136.83,355.25 140.54,353.03 144.25,350.87 147.95,348.78 151.66,346.74 155.37,344.76 159.08,342.84 162.78,340.96 166.49,339.13 170.20,337.34 173.90,335.59 177.61,333.88 181.32,332.21 185.02,330.57 188.73,328.96 192.44,327.39 196.15,325.84 199.85,324.33 203.56,322.84 207.27,321.37 210.97,319.94 214.68,318.52 218.39,317.13 222.09,315.76 225.80,314.41 229.51,313.08 233.22,311.77 236.92,310.48 240.63,309.21 244.34,307.96 248.04,306.72 251.75,305.50 255.46,304.30 259.16,303.11 262.87,301.94 266.58,300.78 270.29,299.63 273.99,298.50 277.70,297.38 281.41,296.27 285.11,295.18 288.82,294.10 292.53,293.03 296.23,291.97 299.94,290.92 303.65,289.89 307.36,288.86 311.06,287.84 314.77,286.84 318.48,285.84 322.18,284.86 325.89,283.88 329.60,282.91 333.30,281.95 337.01,281.00 340.72,280.06 344.42,279.13 348.13,278.20 351.84,277.28 355.55,276.38 359.25,275.47 362.96,274.58 366.67,273.69 370.37,272.81 374.08,271.94 377.79,271.07 381.50,270.21 385.20,269.36 388.91,268.51 392.62,267.67 396.32,266.84 400.03,266.01 403.74,265.19 407.44,264.37 411.15,263.56 414.86,262.75 418.57,261.95 422.27,261.16 425.98,260.37 429.69,259.59 433.39,258.81 437.10,258.04 440.81,257.27 444.51,256.50 448.22,255.74 451.93,254.99 455.63,254.24 459.34,253.50 463.05,252.76 466.76,252.02 470.46,251.29 474.17,250.56 477.88,249.84 481.58,249.12 485.29,248.41 489.00,247.70 492.71,246.99 496.41,246.29 500.12,245.59 503.83,244.89 507.53,244.20 511.24,243.52 514.95,242.83 518.65,242.15 522.36,241.47 526.07,240.80 529.77,240.13 533.48,239.47 537.19,238.80 540.90,238.14 544.60,237.49 548.31,236.83 552.02,236.18 555.72,235.54 559.43,234.89 563.14,234.25 566.85,233.61 570.55,232.98 574.26,232.35 577.97,231.72 581.67,231.09 585.38,230.47 589.09,229.85 592.79,229.23 596.50,228.62 600.21,228.01 603.91,227.40 607.62,226.79 611.33,226.19 615.04,225.58 618.74,224.99 622.45,224.39 626.16,223.79 629.86,223.20 633.57,222.61 637.28,222.03 640.99,221.44 644.69,220.86 648.40,220.28 652.11,219.70 655.81,219.13 659.52,218.56 663.23,217.99 666.93,217.42 670.64,216.85 674.35,216.29 678.05,215.73 681.76,215.17 685.47,214.61 689.18,214.05 692.88,213.50 696.59,212.95 700.30,212.40 704.00,211.85 707.71,211.30 711.42,210.76 715.12,210.22 718.83,209.68 722.54,209.14 726.25,208.60 729.95,208.07 733.66,207.54 737.37,207.01 741.07,206.48 744.78,205.95 748.49,205.43 752.19,204.90 755.90,204.38 759.61,203.86 763.32,203.34 767.02,202.83 770.73,202.31 774.44,201.80 778.14,201.29 781.85,200.78 785.56,200.27 789.26,199.76 792.97,199.26 796.68,198.75 800.39,198.25" stroke="#606060" stroke-width="1.7" stroke-dasharray="12.4 11.0"/>
<polyline points="66.40,401.13 67.14,397.87 67.88,394.82 68.62,391.93 69.37,389.19 70.11,386.58 70.85,384.09 71.59,381.70 72.33,379.40 73.07,377.19 73.81,375.06 74.56,373.00 75.30,371.01 76.04,369.07 76.78,367.20 77.52,365.38 78.26,363.60 79.00,361.87 79.75,360.19 80.49,358.55 81.23,356.94 81.97,355.37 82.71,353.84 83.45,352.34 84.19,350.86 84.94,349.42 85.68,348.01 86.42,346.62 87.16,345.26 87.90,343.92 88.64,342.61 89.38,341.32 90.12,340.05 90.87,338.80 91.61,337.57 92.35,336.36 93.09,335.17 93.83,334.00 94.57,332.84 95.31,331.70 96.06,330.57 96.80,329.46 97.54,328.37 98.28,327.29 99.02,326.22 99.76,325.17 100.50,324.13 101.25,323.11 101.99,322.09 102.73,321.09 103.47,320.10 104.21,319.12 104.95,318.15 105.69,317.19 106.44,316.25 107.18,315.31 107.92,314.38 108.66,313.46 109.40,312.56 110.14,311.66 110.88,310.77 111.63,309.89 112.37,309.01 113.11,308.15 113.85,307.29 114.59,306.45 115.33,305.60 116.07,304.77 116.82,303.95 117.56,303.13 118.30,302.32 119.04,301.51 119.78,300.72 120.52,299.92 121.26,299.14 122.01,298.36 122.75,297.59 123.49,296.83 124.23,296.07 124.97,295.31 125.71,294.57 126.45,293.83 127.19,293.09 127.94,292.36 128.68,291.63 129.42,290.91 130.16,290.20 130.90,289.49 131.64,288.79 132.38,288.09 133.13,287.39 136.83,283.99 140.54,280.69 144.25,277.50 147.95,274.41 151.66,271.40 155.37,268.47 159.08,265.62 162.78,262.84 166.49,260.13 170.20,257.48 173.90,254.90 177.61,252.37 181.32,249.89 185.02,247.47 188.73,245.09 192.44,242.76 196.15,240.47 199.85,238.23 203.56,236.02 207.27,233.86 210.97,231.73 214.68,229.64 218.39,227.58 222.09,225.55 225.80,223.56 229.51,221.59 233.22,219.65 236.92,217.75 240.63,215.87 244.34,214.01 248.04,212.18 251.75,210.37 255.46,208.59 259.16,206.83 262.87,205.09 266.58,203.38 270.29,201.68 273.99,200.01 277.70,198.35 281.41,196.72 285.11,195.10 288.82,193.50 292.53,191.91 296.23,190.35 299.94,188.80 303.65,187.26 307.36,185.75 311.06,184.24 314.77,182.76 318.48,181.28 322.18,179.82 325.89,178.38 329.60,176.95 333.30,175.53 337.01,174.12 340.72,172.73 344.42,171.35 348.13,169.98 351.84,168.62 355.55,167.27 359.25,165.94 362.96,164.61 366.67,163.30 370.37,162.00 374.08,160.71 377.79,159.42 381.50,158.15 385.20,156.89 388.91,155.64 392.62,154.39 396.32,153.16 400.03,151.93 403.74,150.72 407.44,149.51 411.15,148.31 414.86,147.12 418.57,145.93 422.27,144.76 425.98,143.59 429.69,142.43 433.39,141.28 437.10,140.14 440.81,139.00 444.51,137.87 448.22,136.75 451.93,135.63 455.63,134.52 459.34,133.42 463.05,132.32 466.76,131.24 470.46,130.15 474.17,129.08 477.88,128.01 481.58,126.95 485.29,125.89 489.00,124.84 492.71,123.79 496.41,122.75 500.12,121.72 503.83,120.69 507.53,119.67 511.24,118.65 514.95,117.64 518.65,116.63 522.36,115.63 526.07,114.63 529.77,113.64 533.48,112.66 537.19,111.68 540.90,110.70 544.60,109.73 548.31,108.76 552.02,107.80 555.72,106.84 559.43,105.89 563.14,104.94 566.85,104.00 570.55,103.06 574.26,102.13 577.97,101.20 581.67,100.27 585.38,99.35 589.09,98.43 592.79,97.52 596.50,96.61 600.21,95.70 603.91,94.80 607.62,93.90 611.33,93.01 615.04,92.12 618.74,91.23 622.45,90.35 626.16,89.47 629.86,88.59 633.57,87.72 637.28,86.85 640.99,85.99 644.69,85.13 648.40,84.27 652.11,83.42 655.81,82.56 659.52,81.72 663.23,80.87 666.93,80.03 670.64,79.19 674.35,78.36 678.05,77.53 681.76,76.70 685.47,75.87 689.18,75.05 692.88,74.23 696.59,73.42 700.30,72.60 704.00,71.79 707.71,70.99 711.42,70.18 715.12,69.38 718.83,68.58 722.54,67.78 726.25,66.99 729.95,66.20 733.66,65.41 737.37,64.63 741.07,63.85 744.78,63.07 748.49,62.29 752.19,61.51 755.90,60.74 759.61,59.97 763.32,59.21 767.02,58.44 770.73,57.68 774.44,56.92 778.14,56.16 781.85,55.41 785.56,54.66 789.26,53.91 792.97,53.16 796.68,52.41 800.39,51.67" stroke="#606060" stroke-width="2.55"/>
</g>
<g font-size="23.6" fill="#000" style="filter:grayscale(1)" stroke="#fff" stroke-width="0.2" >
<text x="207.27" y="527.7" text-anchor="middle" textLength="46.6" lengthAdjust="spacing">0.02</text>
<text x="355.55" y="527.7" text-anchor="middle" textLength="46.6" lengthAdjust="spacing">0.04</text>
<text x="503.83" y="527.7" text-anchor="middle" textLength="46.6" lengthAdjust="spacing">0.06</text>
<text x="652.11" y="527.7" text-anchor="middle" textLength="46.6" lengthAdjust="spacing">0.08</text>
<text transform="translate(51.7,146.1) rotate(-90)" x="-1.0 12.15 19.4">0.1</text>
<path d="M49.5 113.8h3v4.95h-3zM49.5 120.65h3v5h-3z" fill="#fff" stroke="none"/>
<text transform="translate(51.7,317.25) rotate(-90)" text-anchor="middle" textLength="47" lengthAdjust="spacing">0.05</text>
</g>
<g font-size="21.7" fill="#000" style="filter:grayscale(1)" stroke="#fff" stroke-width="0.2" >
<text x="378.6 394.7 407.2 419.8" y="570.8">Mass</text>
<text x="441.8" y="570.45" font-size="24.4">(</text><text x="451.6" y="570.8" textLength="14.8" lengthAdjust="spacingAndGlyphs">M</text><text x="481.6" y="570.45" font-size="24.4">)</text>
</g>
<circle cx="474.10" cy="573.20" r="5.4" fill="none" stroke="#000" stroke-width="1.3"/><circle cx="474.10" cy="573.20" r="1.45"/>
<g font-size="21.7" fill="#000" style="filter:grayscale(1)" stroke="#fff" stroke-width="0.2" >
<g transform="translate(18.6,312.6) rotate(-90)"><text x="0" y="0" textLength="69.5" lengthAdjust="spacing">Radius</text>
<text x="80.6" y="-0.25" font-size="24.4">(</text><text x="90.3" y="0" textLength="13.6" lengthAdjust="spacingAndGlyphs">R</text><text x="118.1" y="-0.25" font-size="24.4">)</text>
</g></g><g transform="translate(18.6,312.6) rotate(-90)">
<circle cx="111.10" cy="2.10" r="5.4" fill="none" stroke="#000" stroke-width="1.3"/><circle cx="111.10" cy="2.10" r="1.45"/></g>
<g font-size="23.6" fill="#606060" style="filter:grayscale(1)" stroke="#fff" stroke-width="0.2" >
<text x="805.2" y="20.40" textLength="26.6" lengthAdjust="spacing">80</text>
<text x="805.2" y="61.90" textLength="26.6" lengthAdjust="spacing">70</text>
<text x="805.2" y="103.20" textLength="26.6" lengthAdjust="spacing">60</text>
<text x="805.2" y="155.60" textLength="26.6" lengthAdjust="spacing">50</text>
<text x="805.2" y="199.90" textLength="26.6" lengthAdjust="spacing">40</text>
</g>
</svg></body></html>
